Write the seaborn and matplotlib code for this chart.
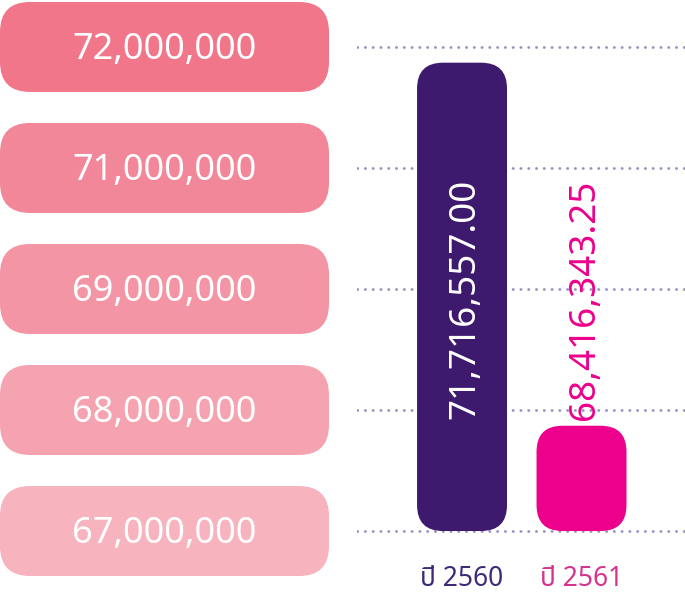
import numpy as np
import pandas as pd
import matplotlib
matplotlib.use("Agg")
import matplotlib.pyplot as plt
from matplotlib.patches import FancyBboxPatch
import seaborn as sns

# data
years = ["ปี 2560", "ปี 2561"]
amounts = ["71,716,557.00", "68,416,343.25"]
# bar tops measured in grid steps above the bottom line (the axis is not linear)
bar_heights = [3.87, 0.87]
tick_labels = ["67,000,000", "68,000,000", "69,000,000", "71,000,000", "72,000,000"]

bar_colors = ["#3D1A6E", "#EC008C"]
year_colors = ["#3F2A78", "#D6338F"]
box_colors = ["#F7B3BE", "#F5A3B0", "#F495A5", "#F28799", "#F1768A"]

sns.set_style("white")
plt.rcParams["font.family"] = ["Noto Sans Thai", "DejaVu Sans"]
plt.rcParams["font.weight"] = "light"

df = pd.DataFrame({"year": years, "height": bar_heights})

fig = plt.figure(figsize=(6.85, 6), dpi=100)
# plot area: from the start of the dotted lines to the right edge
ax = fig.add_axes([357 / 685, 0, 328 / 685, 1])

sns.barplot(data=df, x="year", y="height", hue="year", palette=bar_colors,
            legend=False, width=0.753, ax=ax, zorder=3)

ax.set_xlim(-0.879, 1.866)
ax.set_ylim(-0.570, 4.388)
ax.axis("off")

# dotted grid lines
for i in range(len(tick_labels)):
    ax.axhline(i, color="#9C8FC2", linewidth=2.0, linestyle=(0, (0.1, 2.7)),
               dash_capstyle="round", zorder=1)

# swap the square bars for rounded ones
for i, p in enumerate(list(ax.patches)):
    x0, y0, w, h = p.get_x(), p.get_y(), p.get_width(), p.get_height()
    p.remove()
    r = 26 / 119.5
    ax.add_patch(FancyBboxPatch((x0, y0), w, h,
                                boxstyle="round,pad=0,rounding_size=%f" % r,
                                mutation_aspect=0.988, facecolor=bar_colors[i],
                                edgecolor="none", zorder=3))

# value labels written along the bars
ax.text(0.025, 1.92, amounts[0], rotation=90, ha="center", va="center",
        color="white", fontsize=26.5, zorder=4)
ax.text(1.025, 1.91, amounts[1], rotation=90, ha="center", va="center",
        color=bar_colors[1], fontsize=26.5, zorder=4)

# year labels below the bars
for i, yr in enumerate(years):
    ax.text(i, -0.40, yr, ha="center", va="center", color=year_colors[i],
            fontsize=19)

# y tick labels drawn as rounded pink boxes on the left
fig.canvas.draw()
for i, lab in enumerate(tick_labels):
    _, yc = ax.transData.transform((0, i))
    box = FancyBboxPatch((0, yc - 45), 329, 90,
                         boxstyle="round,pad=0,rounding_size=30",
                         facecolor=box_colors[i], edgecolor="none",
                         transform=None, figure=fig)
    fig.patches.append(box)
    fig.text(164.5 / 685, (yc - 3) / 600, lab, ha="center", va="center",
             color="white", fontsize=26)

fig.savefig("out.png", dpi=100)
